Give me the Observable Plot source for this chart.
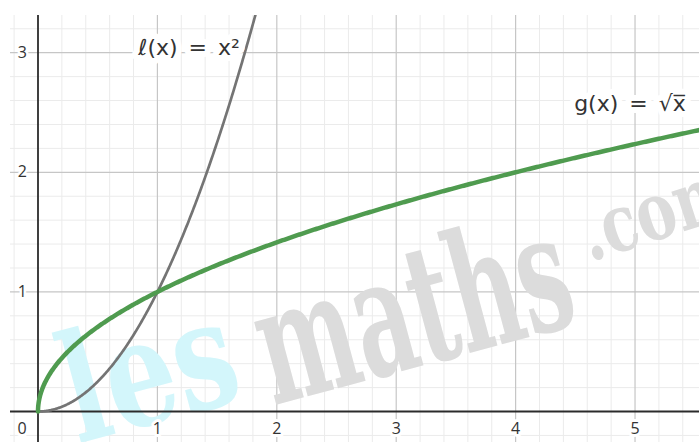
<!DOCTYPE html>
<html><head><meta charset="utf-8">
<script src="https://cdn.jsdelivr.net/npm/d3@7"></script>
<script src="https://cdn.jsdelivr.net/npm/@observablehq/plot@0.6"></script>
<style>html,body{margin:0;padding:0;background:#fff} #chart svg{display:block}</style>
</head><body><div id="chart"></div>
<script>
// ---- data ----
const xDomain = [-0.2303, 5.54];
const yDomain = [-0.259, 3.311];
const xTickValues = [1, 2, 3, 4, 5];
const yTickValues = [1, 2, 3];
const xTickLabels = ["1", "2", "3", "4", "5"];
const yTickLabels = ["1", "2", "3"];
const originLabel = ["0"];
const minorStep = 0.2;
const curveLabels = ["ℓ(x)\u2002=\u2002x²", "g(x)\u2002=\u2002√x̅"];
const curveLabelX = [0.84, 4.49];
const curveLabelY = [3.04, 2.575];
// sample points of the two plotted functions ℓ(x)=x² and g(x)=√x
const squareX = d3.range(0, 1.84, 0.005);
const squareY = squareX.map(x => x * x);
const rootT = d3.range(0, 2.36, 0.004);
const rootX = rootT.map(t => t * t);
const rootY = rootT;
// watermark
const wmText = ["les", "maths", ".com"];
const wmX = [0.33, 1.97, 4.62];
const wmY = [-0.27, 0.05, 1.25];
const wmSize = [150, 165, 80];
const wmColor = ["#d3f6fb", "#dcdcdc", "#dcdcdc"];
const wmStretch = [0.74, 0.56, 0.75];
const wmAngle = [-15, -15, -18];

// ---- derived tables ----
const minorX = d3.range(-1, 28).map(i => i * minorStep).filter(v => Math.abs(v - Math.round(v)) > 1e-6);
const minorY = d3.range(-1, 17).map(i => i * minorStep).filter(v => Math.abs(v - Math.round(v)) > 1e-6);
const squareData = squareX.map((x, i) => ({x, y: squareY[i]}));
const rootData = rootX.map((x, i) => ({x, y: rootY[i]}));
const xTicks = xTickValues.map((v, i) => ({v, label: xTickLabels[i]}));
const yTicks = yTickValues.map((v, i) => ({v, label: yTickLabels[i]}));
const labels = curveLabels.map((t, i) => ({t, x: curveLabelX[i], y: curveLabelY[i]}));

const font = "'Open Sans', 'DejaVu Sans', sans-serif";
const wmMarks = wmText.map((t, i) => Plot.text([{t, x: wmX[i], y: wmY[i]}], {
  x: "x", y: "y", text: "t", fill: wmColor[i], fontSize: wmSize[i],
  fontFamily: "'DejaVu Serif', serif", fontWeight: "bold", textAnchor: "start",
  lineAnchor: "bottom", rotate: wmAngle[i]
}));

const chart = Plot.plot({
  width: 699, height: 442,
  marginTop: 15, marginLeft: 10, marginRight: 0, marginBottom: 0,
  x: {domain: xDomain, axis: null},
  y: {domain: yDomain, axis: null},
  style: {background: "#fff"},
  marks: [
    Plot.ruleX(minorX, {stroke: "#ebebeb", strokeWidth: 1}),
    Plot.ruleY(minorY, {stroke: "#ebebeb", strokeWidth: 1}),
    Plot.ruleX(xTickValues, {stroke: "#c6c6c6", strokeWidth: 1.2}),
    Plot.ruleY(yTickValues, {stroke: "#c6c6c6", strokeWidth: 1.2}),
    ...wmMarks,
    Plot.ruleX([0], {stroke: "#2b2b2b", strokeWidth: 1.8}),
    Plot.ruleY([0], {stroke: "#2b2b2b", strokeWidth: 1.8}),
    Plot.line(squareData, {x: "x", y: "y", stroke: "#747474", strokeWidth: 2.7, clip: true}),
    Plot.line(rootData, {x: "x", y: "y", stroke: "#4f9b4f", strokeWidth: 4.5, clip: true}),
    Plot.text(xTicks, {x: "v", y: () => 0, text: "label", dy: 17, fontSize: 16, fill: "#333",
      fontFamily: font, stroke: "white", strokeWidth: 6, paintOrder: "stroke"}),
    Plot.text(originLabel, {x: () => 0, y: () => 0, text: d => d, dx: -16, dy: 17, fontSize: 16, fill: "#333",
      fontFamily: font, stroke: "white", strokeWidth: 6, paintOrder: "stroke"}),
    Plot.text(yTicks, {x: () => 0, y: "v", text: "label", dx: -11, textAnchor: "end", fontSize: 16, fill: "#333",
      fontFamily: font, stroke: "white", strokeWidth: 5, paintOrder: "stroke"}),
    Plot.text(labels, {x: "x", y: "y", text: "t", textAnchor: "start", fontSize: 22, fill: "#333",
      fontFamily: "'DejaVu Sans', sans-serif", stroke: "white", strokeWidth: 12, strokeLinejoin: "round", paintOrder: "stroke"})
  ]
});
d3.select(chart).selectAll("text").each(function() {
  const i = wmText.indexOf(this.textContent);
  if (i < 0) return;
  const tr = this.getAttribute("transform") || "";
  const x = this.getAttribute("x"), y = this.getAttribute("y");
  if (x != null || y != null) {
    this.setAttribute("transform", `${tr} translate(${x || 0},${y || 0}) scale(${wmStretch[i]},1)`);
    this.removeAttribute("x"); this.removeAttribute("y");
  } else {
    this.setAttribute("transform", `${tr} scale(${wmStretch[i]},1)`);
  }
});
document.getElementById("chart").appendChild(chart);
</script>
</body></html>
